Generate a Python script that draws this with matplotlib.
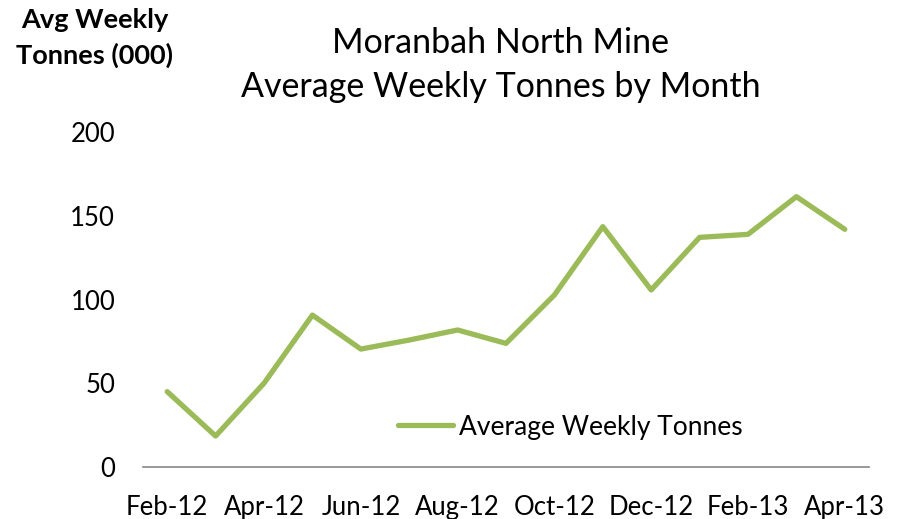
import matplotlib.pyplot as plt

# Dados
meses = ['Feb-12', 'Mar-12', 'Apr-12', 'May-12', 'Jun-12', 'Jul-12', 'Aug-12',
         'Sep-12', 'Oct-12', 'Nov-12', 'Dec-12', 'Jan-13', 'Feb-13', 'Mar-13', 'Apr-13']
toneladas = [45.0, 18.5, 50.0, 90.7, 70.4, 75.8, 81.8, 73.8, 102.7, 143.5,
             105.7, 137.1, 138.9, 161.4, 141.9]
y_ticks = [0, 50, 100, 150, 200]

plt.rcParams['font.family'] = ['Lato', 'DejaVu Sans']

fig = plt.figure(figsize=(9.01, 5.19), dpi=100)
ax = fig.add_axes([143/901, 1 - 467/519, (869 - 143)/901, (467 - 132)/519])

x = list(range(len(meses)))
ax.plot(x, toneladas, color='#9BBB59', linewidth=3.8, solid_capstyle='round',
        label='Average Weekly Tonnes')

ax.set_xlim(-0.5, len(meses) - 0.5)
ax.set_ylim(0, 200)
ax.set_yticks(y_ticks)
ax.set_xticks(x[::2])
ax.set_xticklabels(meses[::2])
ax.tick_params(axis='both', length=0, labelsize=18.5)
ax.tick_params(axis='x', pad=20)
ax.tick_params(axis='y', pad=20)

for s in ['top', 'right', 'left']:
    ax.spines[s].set_visible(False)
ax.spines['bottom'].set_color('#888888')
ax.spines['bottom'].set_linewidth(1.2)

fig.text(501/901, 1 - 65/519, 'Moranbah North Mine\nAverage Weekly Tonnes by Month',
         ha='center', va='center', fontsize=24.5, linespacing=1.47)
fig.text(95/901, 1 - 38/519, 'Avg Weekly\nTonnes (000)', ha='center', va='center',
         fontsize=19.5, fontweight='bold', linespacing=1.5)

ax.legend(loc='center left', bbox_to_anchor=(398/901, 1 - 427/519),
          bbox_transform=fig.transFigure, frameon=False, fontsize=19,
          handlelength=2.1, handletextpad=0.2, borderpad=0, borderaxespad=0)

fig.savefig('out.png', dpi=100)
